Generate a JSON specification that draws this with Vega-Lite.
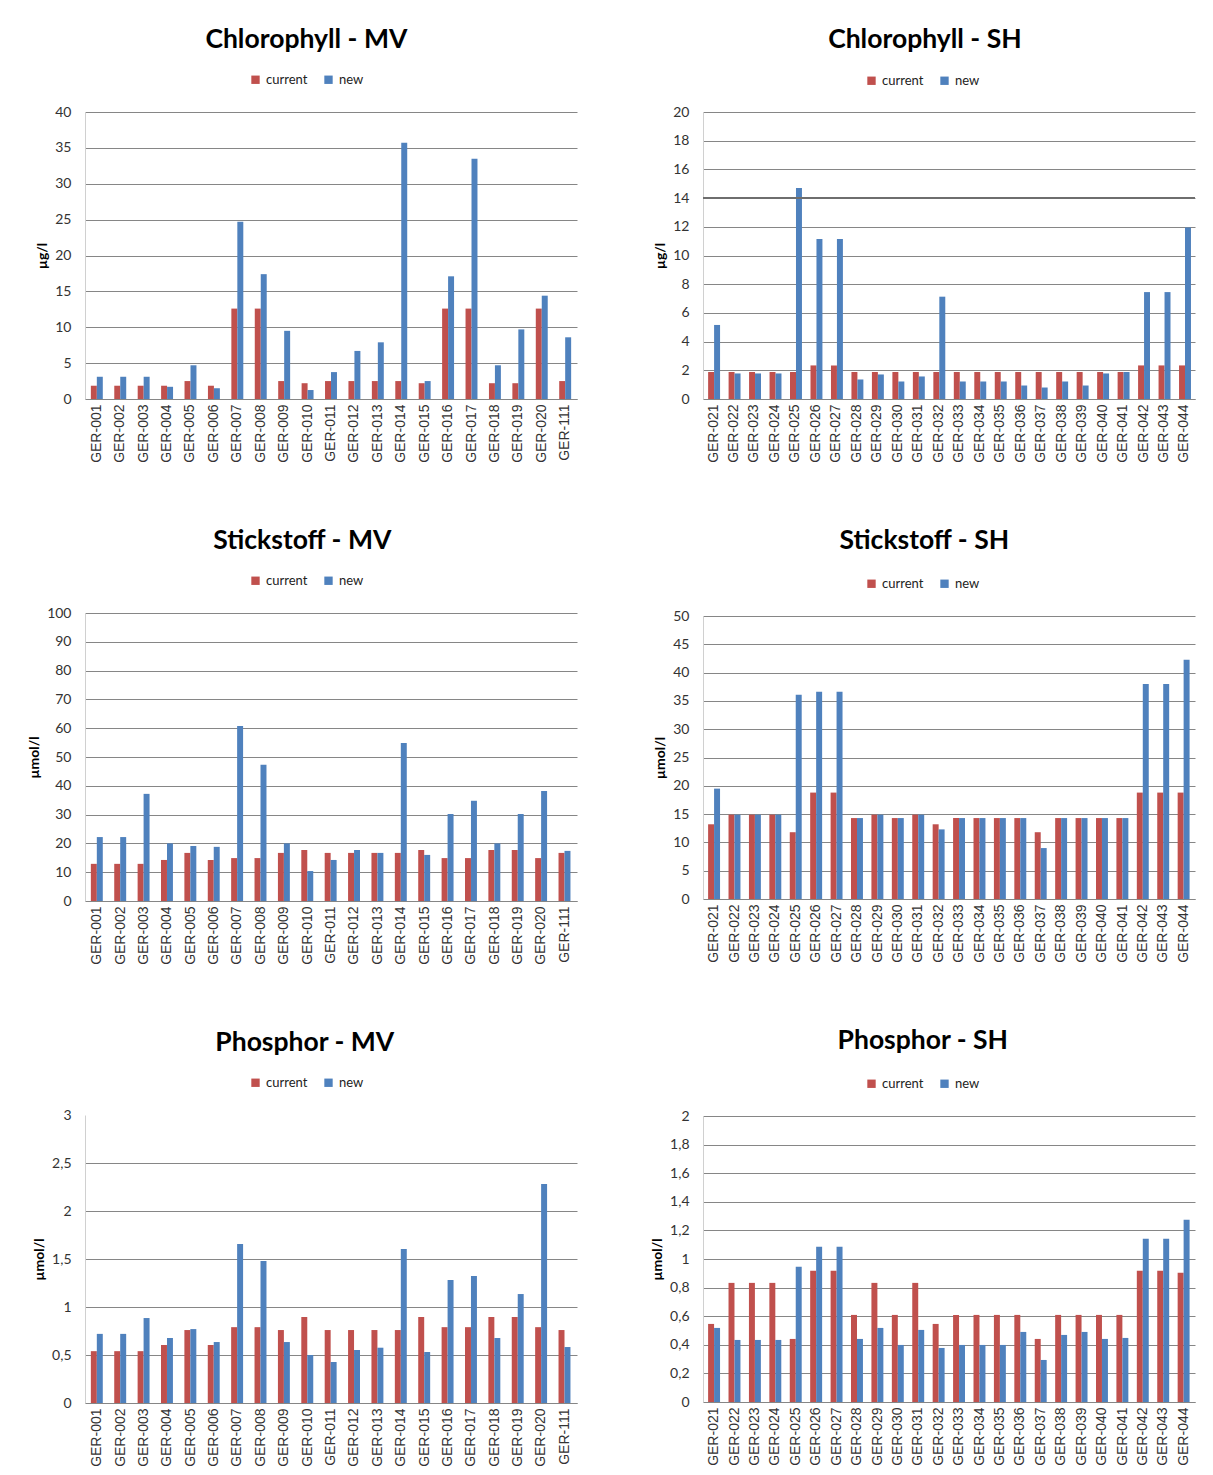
{
  "$schema": "https://vega.github.io/schema/vega-lite/v6.json",
  "background": "white",
  "padding": {"left": 27, "top": 26, "right": 5, "bottom": 5},
  "data": {"values": [
    {"panel":"ChlMV","station":"GER-001","current":1.85,"new":3.1},
    {"panel":"ChlMV","station":"GER-002","current":1.85,"new":3.1},
    {"panel":"ChlMV","station":"GER-003","current":1.85,"new":3.1},
    {"panel":"ChlMV","station":"GER-004","current":1.85,"new":1.7},
    {"panel":"ChlMV","station":"GER-005","current":2.5,"new":4.7},
    {"panel":"ChlMV","station":"GER-006","current":1.85,"new":1.5},
    {"panel":"ChlMV","station":"GER-007","current":12.6,"new":24.7},
    {"panel":"ChlMV","station":"GER-008","current":12.6,"new":17.4},
    {"panel":"ChlMV","station":"GER-009","current":2.5,"new":9.5},
    {"panel":"ChlMV","station":"GER-010","current":2.2,"new":1.25},
    {"panel":"ChlMV","station":"GER-011","current":2.5,"new":3.75},
    {"panel":"ChlMV","station":"GER-012","current":2.5,"new":6.7},
    {"panel":"ChlMV","station":"GER-013","current":2.5,"new":7.9},
    {"panel":"ChlMV","station":"GER-014","current":2.5,"new":35.7},
    {"panel":"ChlMV","station":"GER-015","current":2.2,"new":2.5},
    {"panel":"ChlMV","station":"GER-016","current":12.6,"new":17.1},
    {"panel":"ChlMV","station":"GER-017","current":12.6,"new":33.5},
    {"panel":"ChlMV","station":"GER-018","current":2.2,"new":4.7},
    {"panel":"ChlMV","station":"GER-019","current":2.2,"new":9.7},
    {"panel":"ChlMV","station":"GER-020","current":12.6,"new":14.4},
    {"panel":"ChlMV","station":"GER-111","current":2.5,"new":8.6},

    {"panel":"ChlSH","station":"GER-021","current":1.88,"new":5.16},
    {"panel":"ChlSH","station":"GER-022","current":1.88,"new":1.78},
    {"panel":"ChlSH","station":"GER-023","current":1.88,"new":1.78},
    {"panel":"ChlSH","station":"GER-024","current":1.88,"new":1.78},
    {"panel":"ChlSH","station":"GER-025","current":1.88,"new":14.7},
    {"panel":"ChlSH","station":"GER-026","current":2.34,"new":11.15},
    {"panel":"ChlSH","station":"GER-027","current":2.34,"new":11.15},
    {"panel":"ChlSH","station":"GER-028","current":1.88,"new":1.36},
    {"panel":"ChlSH","station":"GER-029","current":1.88,"new":1.71},
    {"panel":"ChlSH","station":"GER-030","current":1.88,"new":1.22},
    {"panel":"ChlSH","station":"GER-031","current":1.88,"new":1.57},
    {"panel":"ChlSH","station":"GER-032","current":1.88,"new":7.13},
    {"panel":"ChlSH","station":"GER-033","current":1.88,"new":1.22},
    {"panel":"ChlSH","station":"GER-034","current":1.88,"new":1.22},
    {"panel":"ChlSH","station":"GER-035","current":1.88,"new":1.22},
    {"panel":"ChlSH","station":"GER-036","current":1.88,"new":0.94},
    {"panel":"ChlSH","station":"GER-037","current":1.88,"new":0.8},
    {"panel":"ChlSH","station":"GER-038","current":1.88,"new":1.22},
    {"panel":"ChlSH","station":"GER-039","current":1.88,"new":0.94},
    {"panel":"ChlSH","station":"GER-040","current":1.88,"new":1.78},
    {"panel":"ChlSH","station":"GER-041","current":1.88,"new":1.88},
    {"panel":"ChlSH","station":"GER-042","current":2.34,"new":7.45},
    {"panel":"ChlSH","station":"GER-043","current":2.34,"new":7.45},
    {"panel":"ChlSH","station":"GER-044","current":2.34,"new":11.95},

    {"panel":"NMV","station":"GER-001","current":12.9,"new":22.2},
    {"panel":"NMV","station":"GER-002","current":12.9,"new":22.2},
    {"panel":"NMV","station":"GER-003","current":12.9,"new":37.2},
    {"panel":"NMV","station":"GER-004","current":14.25,"new":20.0},
    {"panel":"NMV","station":"GER-005","current":16.7,"new":19.1},
    {"panel":"NMV","station":"GER-006","current":14.25,"new":18.8},
    {"panel":"NMV","station":"GER-007","current":14.9,"new":60.8},
    {"panel":"NMV","station":"GER-008","current":14.9,"new":47.3},
    {"panel":"NMV","station":"GER-009","current":16.7,"new":20.0},
    {"panel":"NMV","station":"GER-010","current":17.7,"new":10.4},
    {"panel":"NMV","station":"GER-011","current":16.7,"new":14.25},
    {"panel":"NMV","station":"GER-012","current":16.7,"new":17.7},
    {"panel":"NMV","station":"GER-013","current":16.7,"new":16.7},
    {"panel":"NMV","station":"GER-014","current":16.7,"new":54.9},
    {"panel":"NMV","station":"GER-015","current":17.7,"new":16.0},
    {"panel":"NMV","station":"GER-016","current":14.9,"new":30.2},
    {"panel":"NMV","station":"GER-017","current":14.9,"new":34.8},
    {"panel":"NMV","station":"GER-018","current":17.7,"new":20.0},
    {"panel":"NMV","station":"GER-019","current":17.7,"new":30.2},
    {"panel":"NMV","station":"GER-020","current":14.9,"new":38.2},
    {"panel":"NMV","station":"GER-111","current":16.7,"new":17.4},

    {"panel":"NSH","station":"GER-021","current":13.2,"new":19.5},
    {"panel":"NSH","station":"GER-022","current":14.9,"new":14.9},
    {"panel":"NSH","station":"GER-023","current":14.9,"new":14.9},
    {"panel":"NSH","station":"GER-024","current":14.9,"new":14.9},
    {"panel":"NSH","station":"GER-025","current":11.8,"new":36.1},
    {"panel":"NSH","station":"GER-026","current":18.8,"new":36.6},
    {"panel":"NSH","station":"GER-027","current":18.8,"new":36.6},
    {"panel":"NSH","station":"GER-028","current":14.3,"new":14.3},
    {"panel":"NSH","station":"GER-029","current":14.9,"new":14.9},
    {"panel":"NSH","station":"GER-030","current":14.3,"new":14.3},
    {"panel":"NSH","station":"GER-031","current":14.9,"new":14.9},
    {"panel":"NSH","station":"GER-032","current":13.2,"new":12.3},
    {"panel":"NSH","station":"GER-033","current":14.3,"new":14.3},
    {"panel":"NSH","station":"GER-034","current":14.3,"new":14.3},
    {"panel":"NSH","station":"GER-035","current":14.3,"new":14.3},
    {"panel":"NSH","station":"GER-036","current":14.3,"new":14.3},
    {"panel":"NSH","station":"GER-037","current":11.8,"new":9.0},
    {"panel":"NSH","station":"GER-038","current":14.3,"new":14.3},
    {"panel":"NSH","station":"GER-039","current":14.3,"new":14.3},
    {"panel":"NSH","station":"GER-040","current":14.3,"new":14.3},
    {"panel":"NSH","station":"GER-041","current":14.3,"new":14.3},
    {"panel":"NSH","station":"GER-042","current":18.8,"new":38.0},
    {"panel":"NSH","station":"GER-043","current":18.8,"new":38.0},
    {"panel":"NSH","station":"GER-044","current":18.8,"new":42.25},

    {"panel":"PMV","station":"GER-001","current":0.54,"new":0.72},
    {"panel":"PMV","station":"GER-002","current":0.54,"new":0.72},
    {"panel":"PMV","station":"GER-003","current":0.54,"new":0.885},
    {"panel":"PMV","station":"GER-004","current":0.604,"new":0.677},
    {"panel":"PMV","station":"GER-005","current":0.76,"new":0.77},
    {"panel":"PMV","station":"GER-006","current":0.604,"new":0.635},
    {"panel":"PMV","station":"GER-007","current":0.79,"new":1.656},
    {"panel":"PMV","station":"GER-008","current":0.79,"new":1.479},
    {"panel":"PMV","station":"GER-009","current":0.76,"new":0.635},
    {"panel":"PMV","station":"GER-010","current":0.896,"new":0.5},
    {"panel":"PMV","station":"GER-011","current":0.76,"new":0.427},
    {"panel":"PMV","station":"GER-012","current":0.76,"new":0.552},
    {"panel":"PMV","station":"GER-013","current":0.76,"new":0.576},
    {"panel":"PMV","station":"GER-014","current":0.76,"new":1.604},
    {"panel":"PMV","station":"GER-015","current":0.896,"new":0.531},
    {"panel":"PMV","station":"GER-016","current":0.79,"new":1.281},
    {"panel":"PMV","station":"GER-017","current":0.79,"new":1.323},
    {"panel":"PMV","station":"GER-018","current":0.896,"new":0.677},
    {"panel":"PMV","station":"GER-019","current":0.896,"new":1.135},
    {"panel":"PMV","station":"GER-020","current":0.79,"new":2.28},
    {"panel":"PMV","station":"GER-111","current":0.76,"new":0.583},

    {"panel":"PSH","station":"GER-021","current":0.546,"new":0.518},
    {"panel":"PSH","station":"GER-022","current":0.833,"new":0.434},
    {"panel":"PSH","station":"GER-023","current":0.833,"new":0.434},
    {"panel":"PSH","station":"GER-024","current":0.833,"new":0.434},
    {"panel":"PSH","station":"GER-025","current":0.441,"new":0.945},
    {"panel":"PSH","station":"GER-026","current":0.917,"new":1.085},
    {"panel":"PSH","station":"GER-027","current":0.917,"new":1.085},
    {"panel":"PSH","station":"GER-028","current":0.609,"new":0.441},
    {"panel":"PSH","station":"GER-029","current":0.833,"new":0.518},
    {"panel":"PSH","station":"GER-030","current":0.609,"new":0.399},
    {"panel":"PSH","station":"GER-031","current":0.833,"new":0.504},
    {"panel":"PSH","station":"GER-032","current":0.546,"new":0.378},
    {"panel":"PSH","station":"GER-033","current":0.609,"new":0.399},
    {"panel":"PSH","station":"GER-034","current":0.609,"new":0.399},
    {"panel":"PSH","station":"GER-035","current":0.609,"new":0.399},
    {"panel":"PSH","station":"GER-036","current":0.609,"new":0.49},
    {"panel":"PSH","station":"GER-037","current":0.441,"new":0.294},
    {"panel":"PSH","station":"GER-038","current":0.609,"new":0.469},
    {"panel":"PSH","station":"GER-039","current":0.609,"new":0.49},
    {"panel":"PSH","station":"GER-040","current":0.609,"new":0.441},
    {"panel":"PSH","station":"GER-041","current":0.609,"new":0.448},
    {"panel":"PSH","station":"GER-042","current":0.917,"new":1.141},
    {"panel":"PSH","station":"GER-043","current":0.917,"new":1.141},
    {"panel":"PSH","station":"GER-044","current":0.903,"new":1.274}
  ]},
  "config": {
    "view": {"stroke": null},
    "font": "Lato",
    "title": {"fontSize": 26.5, "fontWeight": "bold", "font": "Lato", "color": "#000000", "anchor": "middle", "frame": "bounds", "offset": 20},
    "legend": {"orient": "none", "legendX": 164, "legendY": -39, "direction": "horizontal", "title": null, "symbolType": "square", "symbolSize": 70, "symbolStrokeWidth": 0, "labelFontSize": 13, "labelColor": "#222222", "labelFont": "Lato", "columnPadding": 14},
    "axisY": {"ticks": false, "domainColor": "#d0d0d0", "gridColor": "#868686", "gridWidth": 1, "labelFontSize": 14, "labelColor": "#333333", "labelPadding": 14, "titleFontSize": 14, "titleFontWeight": "bold", "titleColor": "#000000", "titlePadding": 5},
    "axisX": {"ticks": false, "grid": false, "domainColor": "#868686", "labelAngle": -90, "labelFont": "Liberation Sans", "labelFontSize": 14, "labelColor": "#333333", "labelPadding": 5, "title": null}
  },
  "spacing": 73,
  "resolve": {"scale": {"color": "independent", "x": "independent", "y": "independent"}, "legend": {"color": "independent"}},
  "hconcat": [
    {
      "spacing": 64,
      "resolve": {"scale": {"color": "independent", "x": "independent", "y": "independent"}, "legend": {"color": "independent"}},
      "vconcat": [
        {
          "title": "Chlorophyll - MV",
          "width": 492, "height": 287,
          "transform": [{"filter": "datum.panel === 'ChlMV'"}, {"fold": ["current", "new"], "as": ["series", "value"]}],
          "mark": {"type": "bar"},
          "encoding": {
            "x": {"field": "station", "type": "nominal", "sort": null, "scale": {"paddingInner": 0.49, "paddingOuter": 0.25}},
            "xOffset": {"field": "series", "type": "nominal", "sort": ["current", "new"]},
            "y": {"field": "value", "type": "quantitative", "scale": {"domain": [0, 40], "nice": false}, "axis": {"title": "µg/l", "values": [0,5,10,15,20,25,30,35,40]}},
            "color": {"field": "series", "type": "nominal", "scale": {"domain": ["current", "new"], "range": ["#C0504D", "#4F81BD"]}}
          }
        },
        {
          "title": "Stickstoff - MV",
          "width": 492, "height": 288,
          "transform": [{"filter": "datum.panel === 'NMV'"}, {"fold": ["current", "new"], "as": ["series", "value"]}],
          "mark": {"type": "bar"},
          "encoding": {
            "x": {"field": "station", "type": "nominal", "sort": null, "scale": {"paddingInner": 0.46, "paddingOuter": 0.25}},
            "xOffset": {"field": "series", "type": "nominal", "sort": ["current", "new"]},
            "y": {"field": "value", "type": "quantitative", "scale": {"domain": [0, 100], "nice": false}, "axis": {"title": "µmol/l", "values": [0,10,20,30,40,50,60,70,80,90,100]}},
            "color": {"field": "series", "type": "nominal", "scale": {"domain": ["current", "new"], "range": ["#C0504D", "#4F81BD"]}}
          }
        },
        {
          "title": "Phosphor - MV",
          "width": 492, "height": 288,
          "transform": [{"filter": "datum.panel === 'PMV'"}, {"fold": ["current", "new"], "as": ["series", "value"]}],
          "mark": {"type": "bar"},
          "encoding": {
            "x": {"field": "station", "type": "nominal", "sort": null, "scale": {"paddingInner": 0.46, "paddingOuter": 0.25}},
            "xOffset": {"field": "series", "type": "nominal", "sort": ["current", "new"]},
            "y": {"field": "value", "type": "quantitative", "scale": {"domain": [0, 3], "nice": false}, "axis": {"title": "µmol/l", "values": [0,0.5,1,1.5,2,2.5,3], "format": ".1~f", "labelExpr": "replace(datum.label, '.', ',')", "gridOpacity": {"condition": {"test": "datum.value === 3", "value": 0}, "value": 1}}},
            "color": {"field": "series", "type": "nominal", "scale": {"domain": ["current", "new"], "range": ["#C0504D", "#4F81BD"]}}
          }
        }
      ]
    },
    {
      "spacing": 64,
      "resolve": {"scale": {"color": "independent", "x": "independent", "y": "independent"}, "legend": {"color": "independent"}},
      "vconcat": [
        {
          "title": {"text": "Chlorophyll - SH", "offset": 21},
          "width": 492, "height": 287,
          "layer": [
            {
              "transform": [{"filter": "datum.panel === 'ChlSH'"}, {"fold": ["current", "new"], "as": ["series", "value"]}],
              "mark": {"type": "bar"},
              "encoding": {
                "x": {"field": "station", "type": "nominal", "sort": null, "scale": {"paddingInner": 0.47, "paddingOuter": 0.25}},
                "xOffset": {"field": "series", "type": "nominal", "sort": ["current", "new"]},
                "y": {"field": "value", "type": "quantitative", "scale": {"domain": [0, 20], "nice": false}, "axis": {"title": "µg/l", "values": [0,2,4,6,8,10,12,14,16,18,20]}},
                "color": {"field": "series", "type": "nominal", "scale": {"domain": ["current", "new"], "range": ["#C0504D", "#4F81BD"]}, "legend": {"legendX": 162, "legendY": -38}}
              }
            },
            {
              "data": {"values": [{"limit": 14}]},
              "mark": {"type": "rule", "color": "#6e6e6e", "strokeWidth": 2},
              "encoding": {"y": {"field": "limit", "type": "quantitative", "axis": {"title": "µg/l", "values": [0,2,4,6,8,10,12,14,16,18,20]}}}
            }
          ]
        },
        {
          "title": {"text": "Stickstoff - SH", "offset": 23},
          "width": 492, "height": 283,
          "transform": [{"filter": "datum.panel === 'NSH'"}, {"fold": ["current", "new"], "as": ["series", "value"]}],
          "mark": {"type": "bar"},
          "encoding": {
            "x": {"field": "station", "type": "nominal", "sort": null, "scale": {"paddingInner": 0.4, "paddingOuter": 0.25}},
            "xOffset": {"field": "series", "type": "nominal", "sort": ["current", "new"]},
            "y": {"field": "value", "type": "quantitative", "scale": {"domain": [0, 50], "nice": false}, "axis": {"title": "µmol/l", "values": [0,5,10,15,20,25,30,35,40,45,50]}},
            "color": {"field": "series", "type": "nominal", "scale": {"domain": ["current", "new"], "range": ["#C0504D", "#4F81BD"]}, "legend": {"legendX": 162, "legendY": -39}}
          }
        },
        {
          "title": {"text": "Phosphor - SH", "offset": 23},
          "width": 492, "height": 286,
          "transform": [{"filter": "datum.panel === 'PSH'"}, {"fold": ["current", "new"], "as": ["series", "value"]}],
          "mark": {"type": "bar"},
          "encoding": {
            "x": {"field": "station", "type": "nominal", "sort": null, "scale": {"paddingInner": 0.4, "paddingOuter": 0.25}},
            "xOffset": {"field": "series", "type": "nominal", "sort": ["current", "new"]},
            "y": {"field": "value", "type": "quantitative", "scale": {"domain": [0, 2], "nice": false}, "axis": {"title": "µmol/l", "values": [0,0.2,0.4,0.6,0.8,1,1.2,1.4,1.6,1.8,2], "format": ".1~f", "labelExpr": "replace(datum.label, '.', ',')"}},
            "color": {"field": "series", "type": "nominal", "scale": {"domain": ["current", "new"], "range": ["#C0504D", "#4F81BD"]}, "legend": {"legendX": 162, "legendY": -39}}
          }
        }
      ]
    }
  ]
}
